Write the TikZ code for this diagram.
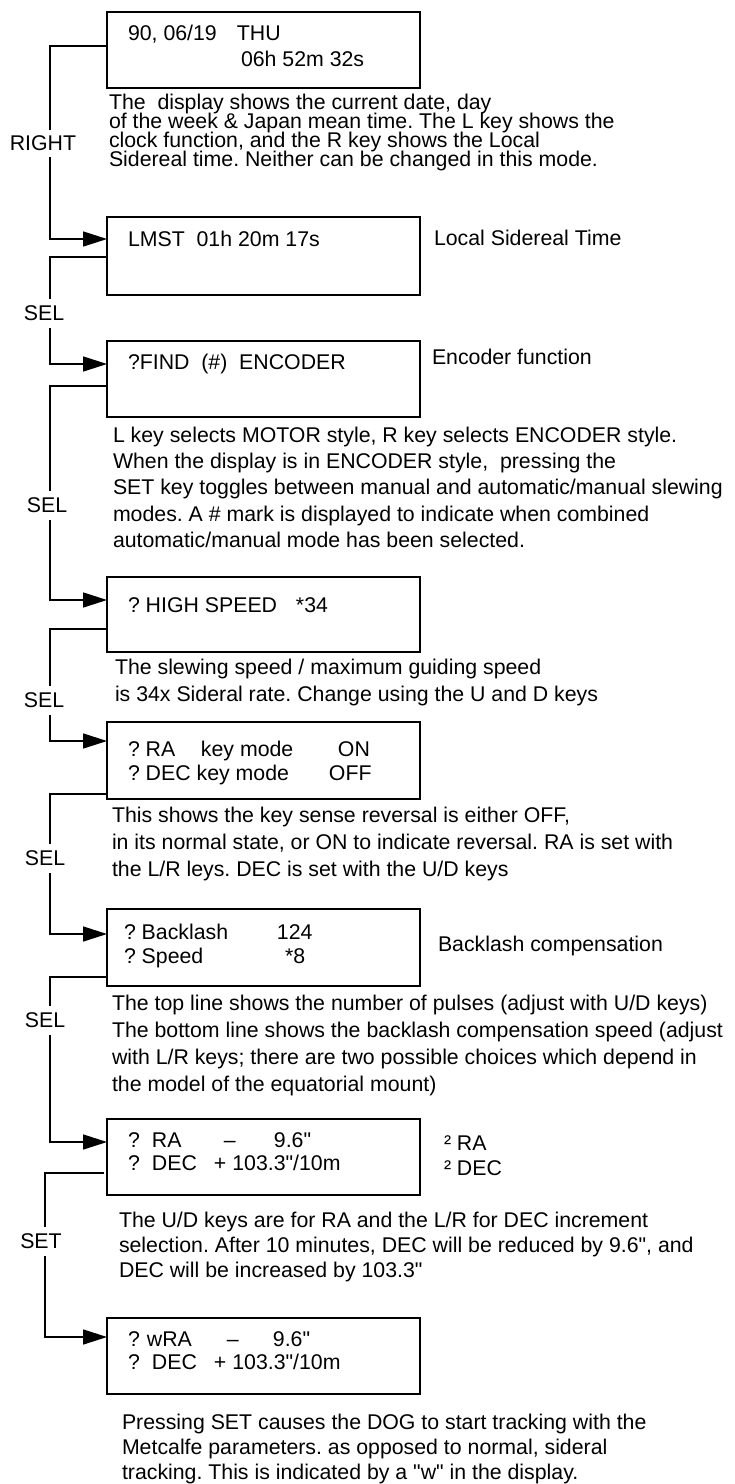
\documentclass[tikz,border=0pt]{standalone}
\usepackage{fontspec}
\setmainfont{Liberation Sans}[Ligatures=TeXOff]
\usetikzlibrary{arrows.meta}
\frenchspacing
\newcommand\fs[1]{\fontsize{21.3pt}{#1pt}\selectfont\lineskiplimit=-40pt\relax}
\tikzset{
  box/.style={draw, line width=1.6pt, minimum width=313pt, inner sep=0pt, outer sep=0pt},
  txt/.style={inner sep=0pt, outer sep=0pt, anchor=north west, align=left},
  side/.style={inner sep=0pt, outer sep=0pt, anchor=base west, font=\fs{26}},
  lbl/.style={fill=white, inner xsep=1pt, inner ysep=7pt, text height=15pt, text depth=0pt, font=\fs{26}},
  conn/.style={line width=1.6pt, -{Triangle[length=24pt,width=15pt]}},
}
\begin{document}
\begin{tikzpicture}[x=1pt,y=-1pt]
\useasboundingbox (0,0) rectangle (734,1484);

% boxes
\node[box, minimum height=76pt] (b1) at (263.5,50) {};
\node[box, minimum height=78pt] (b2) at (263.5,256) {};
\node[box, minimum height=76pt] (b3) at (263.5,379) {};
\node[box, minimum height=75pt] (b4) at (263.5,614.5) {};
\node[box, minimum height=77pt] (b5) at (263.5,760.5) {};
\node[box, minimum height=77pt] (b6) at (263.5,947.5) {};
\node[box, minimum height=76pt] (b7) at (263.5,1157) {};
\node[box, minimum height=76pt] (b8) at (263.5,1356) {};

% box contents
\node[txt, font=\fs{26}] (t1) at (128,25) {\makebox[109pt][l]{90, 06/19}THU\\\hspace*{113pt}06h 52m 32s};
\node[txt, font=\fs{26}] (t2) at (128,231) {LMST\ \ 01h 20m 17s};
\node[txt, font=\fs{26}] (t3) at (128,354) {?FIND\ \ (\#)\ \ ENCODER};
\node[txt, font=\fs{26}] (t4) at (128,598) {\makebox[168pt][l]{? HIGH SPEED}*34};
\node[txt, font=\fs{24}] (t5) at (128,741) {\makebox[73pt][l]{? RA}\makebox[137pt][l]{key mode}ON\\\makebox[201pt][l]{? DEC key mode}OFF};
\node[txt, font=\fs{24}] (t6) at (124,924) {\makebox[153pt][l]{? Backlash}124\\\makebox[161pt][l]{? Speed}*8};
\node[txt, font=\fs{23}] (t7) at (128,1133) {\makebox[24pt][l]{?}\makebox[72pt][l]{RA}\makebox[50pt][l]{–}9.6"\\\makebox[24pt][l]{?}\makebox[62pt][l]{DEC}+ 103.3"/10m};
\node[txt, font=\fs{23}] (t8) at (128,1332) {\makebox[19pt][l]{?}\makebox[80pt][l]{wRA}\makebox[46pt][l]{–}9.6"\\\makebox[24pt][l]{?}\makebox[62pt][l]{DEC}+ 103.3"/10m};

% side labels
\node[side] (s2) at (434,245.5) {Local Sidereal Time};
\node[side] (s3) at (432,364.5) {Encoder function};
\node[side] (s6) at (438,951.5) {Backlash compensation};
\node[side] (s7a) at (444,1150.5) {² RA};
\node[side] (s7b) at (444,1175.5) {² DEC};

% descriptions
\node[txt, font=\fs{19}] (d1) at (109,94) {The\ \ display shows the current date, day\\of the week \& Japan mean time. The L key shows the\\clock function, and the R key shows the Local\\Sidereal time. Neither can be changed in this mode.};
\node[txt, font=\fs{26.25}] (d3) at (113,427) {L key selects MOTOR style, R key selects ENCODER style.\\When the display is in ENCODER style,\ \ pressing the\\SET key toggles between manual and automatic/manual slewing\\modes. A \# mark is displayed to indicate when combined\\automatic/manual mode has been selected.};
\node[txt, font=\fs{27}] (d4) at (115,659) {The slewing speed / maximum guiding speed\\is 34x Sideral rate. Change using the U and D keys};
\node[txt, font=\fs{27}] (d5) at (112,807) {This shows the key sense reversal is either OFF,\\in its normal state, or ON to indicate reversal. RA is set with\\the L/R leys. DEC is set with the U/D keys};
\node[txt, font=\fs{27}] (d6) at (112,995) {The top line shows the number of pulses (adjust with U/D keys)\\The bottom line shows the backlash compensation speed (adjust\\with L/R keys; there are two possible choices which depend in\\the model of the equatorial mount)};
\node[txt, font=\fs{25}] (d7) at (119,1212) {The U/D keys are for RA and the L/R for DEC increment\\selection. After 10 minutes, DEC will be reduced by 9.6", and\\DEC will be increased by 103.3"};
\node[txt, font=\fs{25}] (d8) at (122,1414) {Pressing SET causes the DOG to start tracking with the\\Metcalfe parameters. as opposed to normal, sideral\\tracking. This is indicated by a "w" in the display.};

% connectors
\draw[conn] (b1.west |- 0,46) -| (50,143) node[lbl, xshift=-7pt, inner ysep=6pt] {RIGHT} |- (b2.west |- 0,239);
\draw[conn] (b2.west |- 0,257) -| (50,313) node[lbl, xshift=-6pt] {SEL} |- (b3.west |- 0,364);
\draw[conn] (b3.west |- 0,386) -| (50,505) node[lbl, xshift=-3pt] {SEL} |- (b4.west |- 0,600);
\draw[conn] (b4.west |- 0,629) -| (50,700) node[lbl, xshift=-6pt] {SEL} |- (b5.west |- 0,741);
\draw[conn] (b5.west |- 0,794) -| (50,858) node[lbl, xshift=-5pt] {SEL} |- (b6.west |- 0,934);
\draw[conn] (b6.west |- 0,977) -| (50,1020) node[lbl, xshift=-5pt] {SEL} |- (b7.west |- 0,1142);
\draw[conn, shorten <=3pt] (b7.west |- 0,1173) -| (45,1241) node[lbl, xshift=-4pt] {SET} |- (b8.west |- 0,1337);
\end{tikzpicture}
\end{document}
